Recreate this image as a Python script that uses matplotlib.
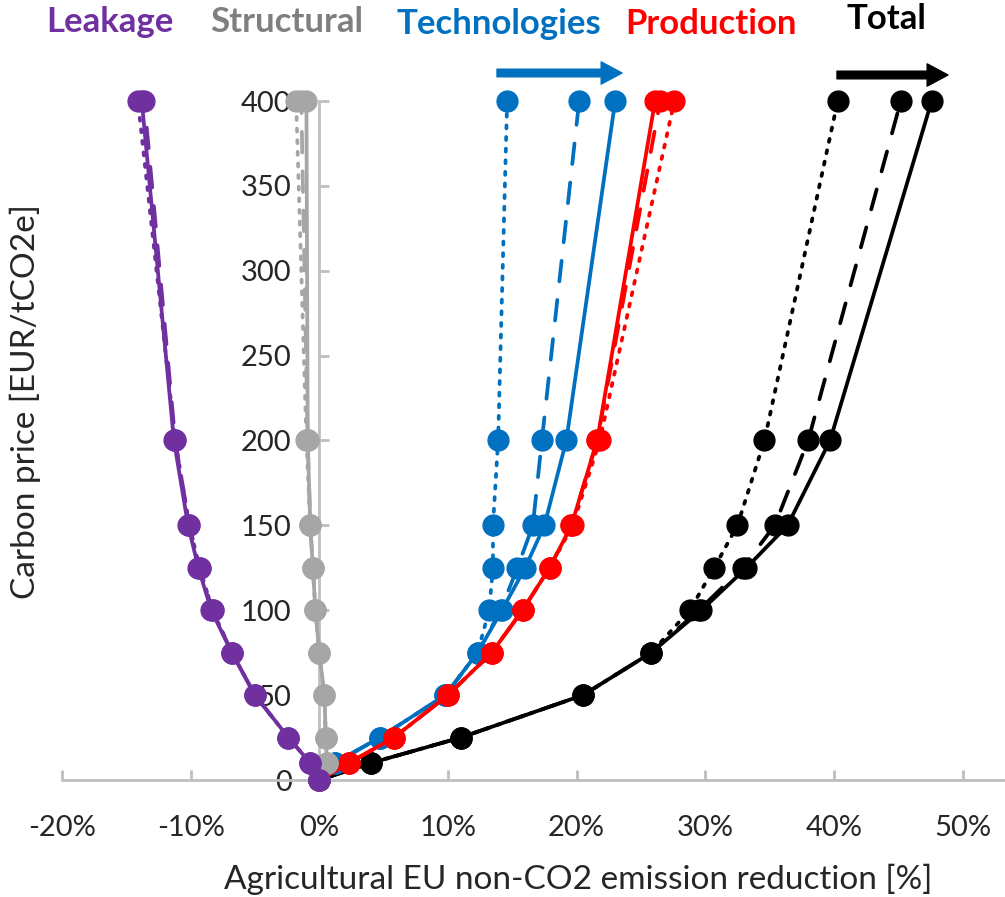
import matplotlib
matplotlib.use("Agg")
import matplotlib.pyplot as plt

plt.rcParams['font.family'] = ['Lato', 'DejaVu Sans']

# carbon price levels [EUR/tCO2e]
prices = [0, 10, 25, 50, 75, 100, 125, 150, 200, 400]

# emission reduction [%] per component, three scenario variants each
leak_solid = [0, -0.7, -2.4, -5.0, -6.8, -8.4, -9.4, -10.2, -11.3, -13.8]
leak_dash = [0, -0.7, -2.4, -5.0, -6.8, -8.3, -9.3, -10.1, -11.2, -13.6]
leak_dot = [0, -0.7, -2.4, -5.0, -6.8, -8.3, -9.3, -10.1, -11.2, -14.1]

struct_solid = [0, 0.6, 0.5, 0.4, 0.0, -0.3, -0.5, -0.7, -0.9, -1.0]
struct_dash = [0, 0.6, 0.5, 0.4, 0.0, -0.3, -0.5, -0.7, -0.9, -1.4]
struct_dot = [0, 0.6, 0.5, 0.4, 0.0, -0.3, -0.5, -0.7, -1.0, -1.8]

tech_solid = [0, 1.2, 4.7, 9.8, 12.3, 14.2, 16.0, 17.5, 19.2, 23.0]
tech_dash = [0, 1.2, 4.7, 9.8, 12.3, 14.1, 15.4, 16.6, 17.3, 20.2]
tech_dot = [0, 1.2, 4.7, 9.8, 12.3, 13.2, 13.5, 13.5, 13.9, 14.6]

prod_solid = [0, 2.3, 5.8, 10.0, 13.4, 15.8, 17.9, 19.6, 21.6, 26.1]
prod_dash = [0, 2.3, 5.8, 10.0, 13.4, 15.8, 17.9, 19.6, 21.6, 26.5]
prod_dot = [0, 2.3, 5.8, 10.0, 13.4, 15.8, 17.9, 19.7, 21.8, 27.6]

total_solid = [0, 4.0, 11.0, 20.5, 25.8, 29.7, 33.2, 36.4, 39.7, 47.6]
total_dash = [0, 4.0, 11.0, 20.5, 25.8, 29.5, 32.9, 35.4, 38.0, 45.2]
total_dot = [0, 4.0, 11.0, 20.5, 25.8, 28.8, 30.7, 32.5, 34.6, 40.3]

groups = [
    ('Total', '#000000', (total_solid, total_dash, total_dot), 1),
    ('Technologies', '#0070C0', (tech_solid, tech_dash, tech_dot), 2),
    ('Production', '#FF0000', (prod_solid, prod_dash, prod_dot), 3),
    ('Structural', '#A6A6A6', (struct_solid, struct_dash, struct_dot), 4),
    ('Leakage', '#7030A0', (leak_solid, leak_dash, leak_dot), 5),
]
styles = ['-', (0, (5.5, 5)), (0, (0.8, 2.3))]

fig = plt.figure(figsize=(10.05, 8.97), dpi=100)
ax = fig.add_axes([62 / 1005, 117 / 897, 943 / 1005, 679 / 897])

for name, col, series, z in groups:
    for vals, ls in zip(series, styles):
        ax.plot(vals, prices, color=col, lw=2.7, ls=ls, marker='o', ms=15,
                dash_capstyle='round', clip_on=False, zorder=z)

ax.set_xlim(-20, 53.3)
ax.set_ylim(0, 400)
ax.set_xticks(range(-20, 51, 10))
ax.set_xticklabels([f'{v}%' for v in range(-20, 51, 10)])
ax.set_yticks(range(0, 401, 50))

axis_col = '#BFBFBF'
for s in ['top', 'right']:
    ax.spines[s].set_visible(False)
ax.spines['left'].set_position(('data', 0))
ax.spines['left'].set_bounds(0, 400)
ax.spines['left'].set_zorder(0)
for s in ['left', 'bottom']:
    ax.spines[s].set_color(axis_col)
    ax.spines[s].set_linewidth(2)
ax.tick_params(axis='both', direction='in', length=7, width=2, color=axis_col,
               labelsize=21, labelcolor='#262626')
ax.tick_params(axis='y', pad=20)
ax.tick_params(axis='x', pad=25)

ax.set_xlabel('Agricultural EU non-CO2 emission reduction [%]', fontsize=24,
              color='#262626', va='center')
ax.xaxis.set_label_coords(0.547, -0.147)
ax.set_ylabel('Carbon price [EUR/tCO2e]', fontsize=24, color='#262626', va='center')
ax.yaxis.set_label_coords(-0.039, 0.557)

# component headers
heads = [('Leakage', '#7030A0', 110, 22), ('Structural', '#7F7F7F', 287, 22),
         ('Technologies', '#0070C0', 499, 24), ('Production', '#FF0000', 711, 24),
         ('Total', '#000000', 886, 19)]
for txt, col, x, y in heads:
    fig.text(x / 1005, 1 - y / 897, txt, color=col, fontsize=25, fontweight='bold',
             ha='center', va='center')

# direction arrows
arrow = dict(arrowstyle='simple,head_length=1.5,head_width=1.6,tail_width=0.55',
             shrinkA=0, shrinkB=0, mutation_scale=10)
ax.annotate('', xy=(622, 824), xytext=(497, 824), xycoords='figure pixels',
            textcoords='figure pixels', arrowprops=dict(color='#0070C0', **arrow))
ax.annotate('', xy=(948, 822), xytext=(837, 822), xycoords='figure pixels',
            textcoords='figure pixels', arrowprops=dict(color='#000000', **arrow))

fig.savefig('out.png', dpi=100)
